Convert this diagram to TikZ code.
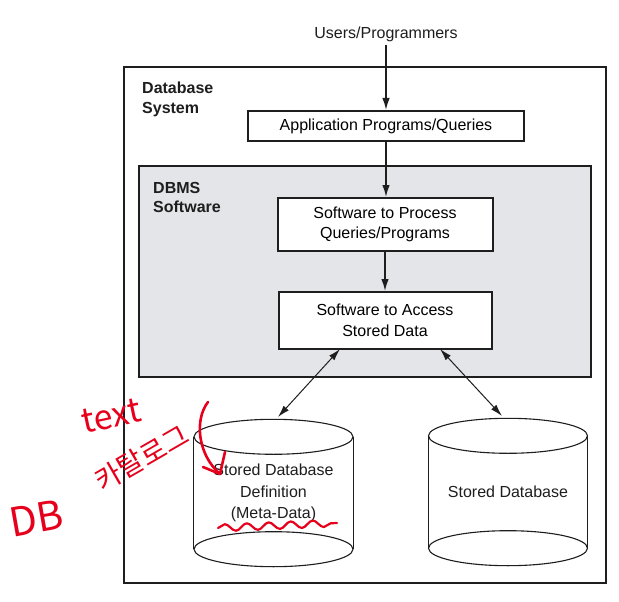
\documentclass[tikz,border=0pt]{standalone}
\usepackage{fontspec}
\setmainfont{Liberation Sans}
\newfontfamily\krfont{Noto Sans CJK KR}
\usetikzlibrary{arrows.meta,decorations.pathmorphing}
\definecolor{penred}{RGB}{230,0,28}
\definecolor{dbmsgray}{RGB}{228,229,233}
\definecolor{ink}{RGB}{30,30,30}
\begin{document}
\begin{tikzpicture}[x=1pt,y=-1pt,
  box/.style={draw=ink, line width=2pt, fill=white, align=center, inner sep=0pt,
    font=\fontsize{16}{20.5}\selectfont},
  arr/.style={draw=ink, line width=1.5pt, -{Latex[length=12pt,width=7.5pt]}},
  darr/.style={draw=ink, line width=1pt, {Latex[length=12pt,width=7pt]}-{Latex[length=12pt,width=7pt]}},
  ttl/.style={font=\fontsize{16}{19.5}\selectfont\bfseries, align=left, anchor=north west, inner sep=0pt, text=ink},
  lbl/.style={font=\fontsize{16}{21.5}\selectfont, align=center, inner sep=0pt, text=ink},
  cylline/.style={draw=ink, line width=1.1pt},
  pen/.style={draw=penred, line width=2.6pt, line cap=round, line join=round},
  pentext/.style={text=penred, inner sep=0pt},
]
\useasboundingbox (0,0) rectangle (619,602);
\fill[white] (0,0) rectangle (619,602);

% outer system box
\node[draw=ink, line width=2.2pt, minimum width=482pt, minimum height=516pt, inner sep=0pt] (sys) at (365,325) {};
\node[ttl] (systitle) at (142,82) {Database\\System};

% DBMS software box
\node[draw=ink, fill=dbmsgray, line width=2pt, minimum width=452pt, minimum height=211pt, inner sep=0pt] (dbms) at (365,271.5) {};
\node[ttl] (dbmstitle) at (153,182) {DBMS\\Software};

% users
\node[lbl] (users) at (386,34) {Users/Programmers};

% boxes
\node[box, minimum width=276pt, minimum height=30pt] (app) at (386,126) {Application Programs/Queries};
\node[box, minimum width=215pt, minimum height=53pt] (proc) at (385,224.5) {Software to Process\\Queries/Programs};
\node[box, minimum width=213pt, minimum height=57pt] (acc) at (385,320.5) {Software to Access\\Stored Data};

% vertical arrows
\draw[arr] (users.south -| app.north) ++(0,3) -- (app.north);
\draw[arr] (app.south) -- (app.south |- proc.north);
\draw[arr] (proc.south) -- (acc.north);

% cylinders
\node[minimum width=159pt, minimum height=112pt, inner sep=0pt] (cylL) at (273.5,493) {};
\node[minimum width=158pt, minimum height=112pt, inner sep=0pt] (cylR) at (508,492) {};

\foreach \c in {cylL,cylR}{
  \fill[white] (\c.north west) -- (\c.south west) arc[start angle=180, end angle=360, x radius=79.5pt, y radius=-17.5pt]
     -- (\c.north east) arc[start angle=0, end angle=180, x radius=79.5pt, y radius=-17.5pt] -- cycle;
  \draw[cylline] (\c.north west) -- (\c.south west);
  \draw[cylline] (\c.north east) -- (\c.south east);
  \draw[cylline] (\c.north) ellipse[x radius=79.5pt, y radius=17.5pt];
  \draw[cylline] (\c.south) ellipse[x radius=79.5pt, y radius=17.5pt];
}

\node[lbl] (defl) at (273.5,493) {Stored Database\\Definition\\(Meta-Data)};
\node[lbl] (sdb) at (508,492) {Stored Database};

% double arrows
\coordinate (aL) at (340,349);
\coordinate (aR) at (440,349);
\coordinate (tL) at (278,417);
\coordinate (tR) at (502,416);
\draw[darr] (aL) -- (tL);
\draw[darr] (aR) -- (tR);

% handwritten annotations
\node[pentext, font=\krfont\fontsize{34}{34}\selectfont, rotate=12] (t1) at (111,416) {text};
\node[pentext, font=\krfont\fontsize{28}{28}\selectfont, rotate=30] (t2) at (142,458) {카탈로그};
\node[pentext, font=\krfont\fontsize{40}{40}\selectfont, rotate=10] (t3) at (36,518) {DB};
\coordinate (c1) at (208,402);
\coordinate (c2) at (220,474);
\draw[pen] (c1) .. controls (194,420) and (198,455) .. (c2);
\draw[pen] (203,467) -- (c2) -- (225,452);
\coordinate (w1) at (218,528);
\coordinate (w2) at (337,523);
\draw[pen, line width=2.2pt, decorate, decoration={snake, segment length=22pt, amplitude=3.5pt}] (w1) -- (w2);
\end{tikzpicture}
\end{document}
